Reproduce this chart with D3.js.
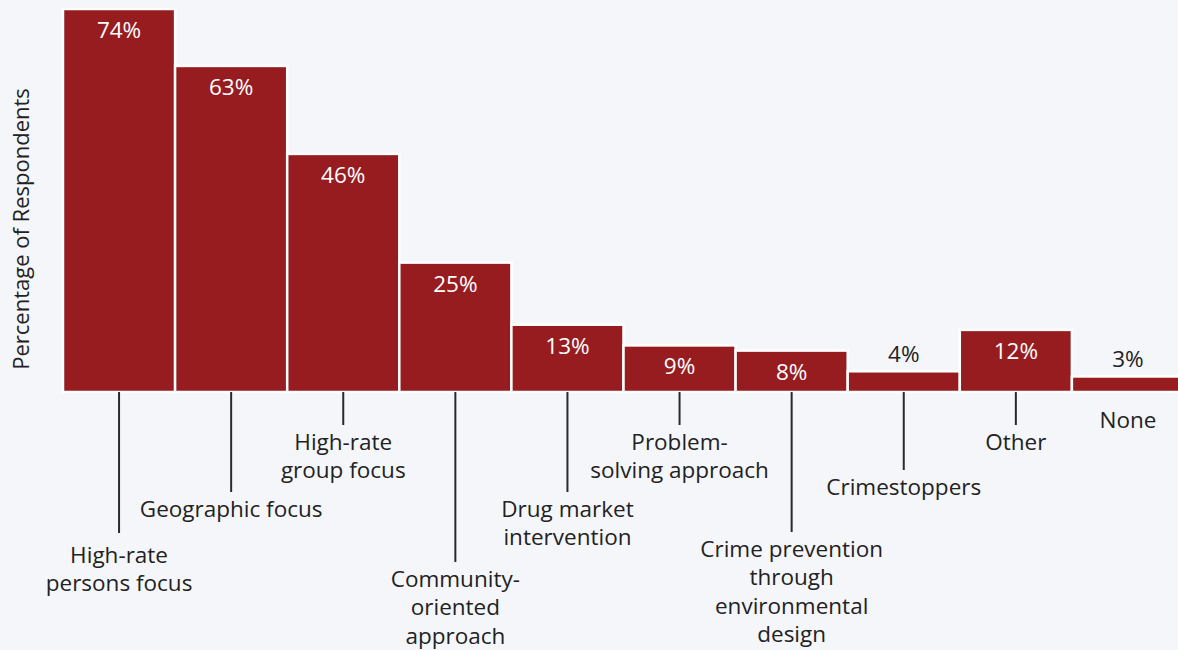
<!DOCTYPE html>
<html>
<head>
<meta charset="utf-8">
<script src="https://cdn.jsdelivr.net/npm/d3@7"></script>
<style>
  html, body { margin: 0; padding: 0; background: #f5f6fa; }
  #chart { width: 1178px; height: 650px; }
  text { font-family: "Open Sans", "Noto Sans", sans-serif; }
</style>
</head>
<body>
<div id="chart"></div>
<script>
const categories = [
  "High-rate persons focus", "Geographic focus", "High-rate group focus",
  "Community-oriented approach", "Drug market intervention", "Problem-solving approach",
  "Crime prevention through environmental design", "Crimestoppers", "Other", "None"
];
const values = [74, 63, 46, 25, 13, 9, 8, 4, 12, 3];
// how each label is wrapped
const labelLines = [
  ["High-rate", "persons focus"],
  ["Geographic focus"],
  ["High-rate", "group focus"],
  ["Community-", "oriented", "approach"],
  ["Drug market", "intervention"],
  ["Problem-", "solving approach"],
  ["Crime prevention", "through", "environmental", "design"],
  ["Crimestoppers"],
  ["Other"],
  ["None"]
];
// where each leader line stops, and the baseline of each label's first line
const leaderEnd = [533, 492, 425, 562, 492, 425, 532, 470, 425, null];
const labelTop = [563, 517, 450, 587, 517, 450, 557, 495, 450, 428];

const width = 1178, height = 650;
const baseY = 392;
const fontSize = 22.5;

const svg = d3.select("#chart").append("svg")
  .attr("width", width)
  .attr("height", height);

const x = d3.scaleBand()
  .domain(categories)
  .range([63, 63 + 112.1 * categories.length])
  .padding(0);

const y = d3.scaleLinear()
  .domain([0, 74])
  .range([baseY, 9]);

svg.append("g")
  .selectAll("rect")
  .data(values)
  .enter().append("rect")
  .attr("x", (d, i) => x(categories[i]))
  .attr("y", d => y(d))
  .attr("width", x.bandwidth())
  .attr("height", d => baseY - y(d))
  .attr("fill", "#961c1f")
  .attr("stroke", "#ffffff")
  .attr("stroke-width", 2.5);

// value labels, inside the bar when it is tall enough
svg.append("g")
  .selectAll("text")
  .data(values)
  .enter().append("text")
  .attr("x", (d, i) => x(categories[i]) + x.bandwidth() / 2)
  .attr("y", d => d >= 8 ? y(d) + 29 : y(d) - 9)
  .attr("text-anchor", "middle")
  .attr("font-size", fontSize)
  .attr("fill", d => d >= 8 ? "#ffffff" : "#222222")
  .text(d => d + "%");

// leader lines
svg.append("g")
  .selectAll("line")
  .data(leaderEnd.map((e, i) => ({ e, i })).filter(d => d.e !== null))
  .enter().append("line")
  .attr("x1", d => x(categories[d.i]) + x.bandwidth() / 2)
  .attr("x2", d => x(categories[d.i]) + x.bandwidth() / 2)
  .attr("y1", baseY)
  .attr("y2", d => d.e)
  .attr("stroke", "#2a2a2a")
  .attr("stroke-width", 2);

// category labels
const labels = svg.append("g")
  .selectAll("text")
  .data(labelLines)
  .enter().append("text")
  .attr("text-anchor", "middle")
  .attr("font-size", fontSize)
  .attr("fill", "#222222")
  .attr("transform", (d, i) => {
    const cx = x(categories[i]) + x.bandwidth() / 2;
    return `translate(${cx},${labelTop[i]})`;
  });

labels.selectAll("tspan")
  .data(d => d)
  .enter().append("tspan")
  .attr("x", 0)
  .attr("dy", (d, j) => j === 0 ? 0 : 28.3)
  .text(d => d);

svg.append("text")
  .attr("transform", "translate(29,229) rotate(-90)")
  .attr("text-anchor", "middle")
  .attr("font-size", 22)
  .attr("fill", "#222222")
  .text("Percentage of Respondents");
</script>
</body>
</html>
